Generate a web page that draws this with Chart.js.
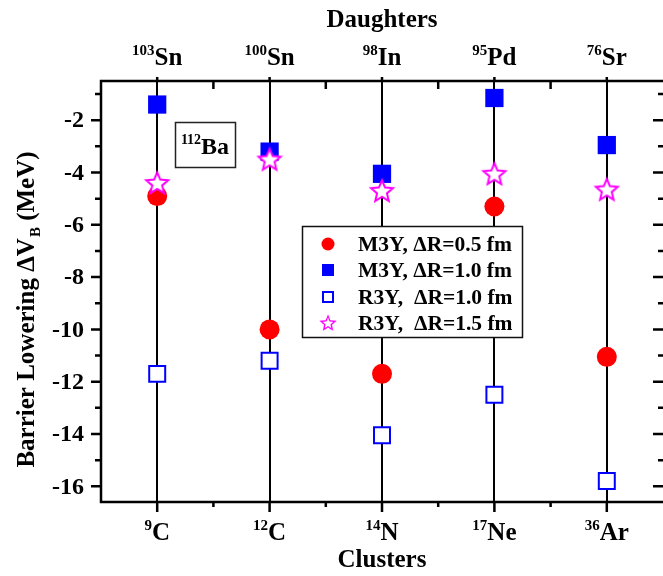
<!DOCTYPE html>
<html><head><meta charset="utf-8">
<script src="https://cdn.jsdelivr.net/npm/chart.js@4"></script>
<style>html,body{margin:0;padding:0;background:#fff}#wrap{width:663px;height:576px}</style>
</head><body><div id="wrap"><canvas id="c" width="663" height="576"></canvas></div>
<script>
const clusterMass = ['9','12','14','17','36'];
const clusterSym = ['C','C','N','Ne','Ar'];
const daughterMass = ['103','100','98','95','76'];
const daughterSym = ['Sn','Sn','In','Pd','Sr'];
const m3y05 = [-4.9, -10.0, -11.7, -5.3, -11.05];
const m3y10 = [-1.4, -3.2, -4.05, -1.15, -2.95];
const r3y10 = [-11.7, -11.2, -14.05, -12.5, -15.8];
const r3y15 = [-4.4, -3.5, -4.7, -4.05, -4.65];
const yTickLabels = [-2, -4, -6, -8, -10, -12, -14, -16];
const seriesLabels = ['M3Y, \u0394R=0.5 fm', 'M3Y, \u0394R=1.0 fm', 'R3Y,  \u0394R=1.0 fm', 'R3Y,  \u0394R=1.5 fm'];
const nucleusMass = '112';
const nucleusSym = 'Ba';

const FONT = '"Liberation Serif", "Times New Roman", serif';

function makeStar() {
  const c = document.createElement('canvas');
  c.width = 28; c.height = 28;
  const g = c.getContext('2d');
  const R = 11.5, r = 5.2, cx = 14, cy = 14.8;
  g.beginPath();
  for (let k = 0; k < 10; k++) {
    const ang = -Math.PI / 2 + k * Math.PI / 5;
    const rr = k % 2 === 0 ? R : r;
    const px = cx + rr * Math.cos(ang), py = cy + rr * Math.sin(ang);
    if (k === 0) g.moveTo(px, py); else g.lineTo(px, py);
  }
  g.closePath();
  g.fillStyle = '#ffffff';
  g.fill();
  g.lineWidth = 2;
  g.strokeStyle = '#ff00ff';
  g.stroke();
  return c;
}
const starImg = makeStar();

function pts(arr) { return arr.map((v, i) => ({x: i, y: v})); }

function drawSupText(ctx, sup, main, cx, baseline, supPx, mainPx, align) {
  ctx.font = 'bold ' + supPx + 'px ' + FONT;
  const ws = ctx.measureText(sup).width;
  ctx.font = 'bold ' + mainPx + 'px ' + FONT;
  const wm = ctx.measureText(main).width;
  const total = ws + wm;
  let x0 = align === 'left' ? cx : cx - total / 2;
  ctx.textAlign = 'left';
  ctx.textBaseline = 'alphabetic';
  ctx.font = 'bold ' + supPx + 'px ' + FONT;
  ctx.fillText(sup, x0, baseline - mainPx * 0.40);
  ctx.font = 'bold ' + mainPx + 'px ' + FONT;
  ctx.fillText(main, x0 + ws, baseline);
}

const decor = {
  id: 'decor',
  afterDraw(chart) {
    const ctx = chart.ctx;
    const xs = chart.scales.x, ys = chart.scales.y;
    const {left, right, top, bottom} = chart.chartArea;
    ctx.save();
    ctx.strokeStyle = '#000';
    ctx.fillStyle = '#000';
    // frame (right edge falls outside the picture)
    ctx.lineWidth = 2.5;
    ctx.beginPath();
    ctx.moveTo(right + 2, top); ctx.lineTo(left, top); ctx.lineTo(left, bottom); ctx.lineTo(right + 2, bottom);
    ctx.stroke();
    // y ticks
    for (let v = -16; v <= -1; v++) {
      const py = ys.getPixelForValue(v);
      const major = v % 2 === 0;
      ctx.beginPath();
      ctx.moveTo(left - (major ? 10 : 6), py); ctx.lineTo(left, py);
      ctx.moveTo(right - (major ? 10 : 5), py); ctx.lineTo(right, py);
      ctx.stroke();
    }
    // x ticks
    for (let k = 0; k <= 8; k++) {
      const v = k / 2;
      const px = xs.getPixelForValue(v);
      const major = k % 2 === 0;
      ctx.beginPath();
      ctx.moveTo(px, bottom); ctx.lineTo(px, bottom + (major ? 10 : 5));
      if (major) { ctx.moveTo(px, top - 4); ctx.lineTo(px, top); }
      else { ctx.moveTo(px, top); ctx.lineTo(px, top + 8); }
      ctx.stroke();
    }
    // y tick labels
    ctx.font = 'bold 24px ' + FONT;
    ctx.textAlign = 'right';
    ctx.textBaseline = 'middle';
    yTickLabels.forEach(v => {
      ctx.fillText(String(v), left - 17, ys.getPixelForValue(v) + 1);
    });
    // x labels bottom & top
    for (let i = 0; i < clusterSym.length; i++) {
      const px = xs.getPixelForValue(i);
      drawSupText(ctx, clusterMass[i], clusterSym[i], px, 540, 15, 25);
      drawSupText(ctx, daughterMass[i], daughterSym[i], px, 65, 15, 25);
    }
    // axis titles
    ctx.font = 'bold 25px ' + FONT;
    ctx.textAlign = 'center';
    ctx.textBaseline = 'alphabetic';
    ctx.fillText('Clusters', xs.getPixelForValue(2), 567);
    ctx.fillText('Daughters', xs.getPixelForValue(2), 27);
    // y title with subscript
    ctx.save();
    ctx.translate(34, 310);
    ctx.rotate(-Math.PI / 2);
    const p1 = 'Barrier Lowering \u0394V', p2 = 'B', p3 = ' (MeV)';
    ctx.font = 'bold 25px ' + FONT;
    const w1 = ctx.measureText(p1).width, w3 = ctx.measureText(p3).width;
    ctx.font = 'bold 15px ' + FONT;
    const w2 = ctx.measureText(p2).width;
    const tot = w1 + w2 + w3;
    const x0 = -tot / 2;
    ctx.textAlign = 'left';
    ctx.font = 'bold 25px ' + FONT;
    ctx.fillText(p1, x0, 0);
    ctx.font = 'bold 15px ' + FONT;
    ctx.fillText(p2, x0 + w1 + 1, 6);
    ctx.font = 'bold 25px ' + FONT;
    ctx.fillText(p3, x0 + w1 + w2 + 1, 0);
    ctx.restore();
    // nucleus box
    ctx.lineWidth = 1.5;
    ctx.strokeStyle = '#222';
    ctx.strokeRect(175.5, 122.5, 60, 45);
    ctx.fillStyle = '#000';
    drawSupText(ctx, nucleusMass, nucleusSym, 205, 154, 14, 24);
    // legend
    ctx.lineWidth = 1.5;
    ctx.strokeStyle = '#111';
    ctx.fillStyle = '#fff';
    ctx.fillRect(302.5, 226.5, 220, 111);
    ctx.strokeRect(302.5, 226.5, 220, 111);
    const rows = [244, 270, 297, 323];
    const mx = 328;
    ctx.fillStyle = '#ff0000';
    ctx.beginPath(); ctx.arc(mx, rows[0], 6.5, 0, Math.PI * 2); ctx.fill();
    ctx.fillStyle = '#0000ff';
    ctx.fillRect(mx - 6, rows[1] - 6, 12, 12);
    ctx.fillStyle = '#fff';
    ctx.strokeStyle = '#0000ff';
    ctx.lineWidth = 2;
    ctx.fillRect(mx - 5, rows[2] - 5, 10, 10);
    ctx.strokeRect(mx - 5, rows[2] - 5, 10, 10);
    ctx.drawImage(starImg, mx - 9, rows[3] - 9, 18, 18);
    ctx.fillStyle = '#000';
    ctx.font = 'bold 21.5px ' + FONT;
    ctx.textAlign = 'left';
    ctx.textBaseline = 'middle';
    seriesLabels.forEach((t, i) => ctx.fillText(t, 358, rows[i] + 1));
    ctx.restore();
  }
};

new Chart(document.getElementById('c'), {
  type: 'scatter',
  data: {
    datasets: [
      {label: seriesLabels[0], data: pts(m3y05), pointStyle: 'circle', pointRadius: 10, pointHoverRadius: 10,
       backgroundColor: '#ff0000', borderColor: '#ff0000', borderWidth: 0, order: 3},
      {label: seriesLabels[1], data: pts(m3y10), pointStyle: 'rect', pointRadius: 12.9, pointHoverRadius: 12.9,
       backgroundColor: '#0000ff', borderColor: '#0000ff', borderWidth: 0, order: 2},
      {label: seriesLabels[2], data: pts(r3y10), pointStyle: 'rect', pointRadius: 11.3, pointHoverRadius: 11.3,
       backgroundColor: '#ffffff', borderColor: '#0000ff', borderWidth: 2, order: 1},
      {label: seriesLabels[3], data: pts(r3y15), pointStyle: starImg, pointRadius: 12, pointHoverRadius: 12,
       backgroundColor: '#ffffff', borderColor: '#ff00ff', borderWidth: 2, order: 0}
    ]
  },
  options: {
    responsive: false,
    animation: false,
    devicePixelRatio: 1,
    layout: {autoPadding: false, padding: {left: 101, right: 0, top: 81, bottom: 74}},
    plugins: {legend: {display: false}, tooltip: {enabled: false}},
    events: [],
    scales: {
      x: {
        type: 'linear', min: -0.5, max: 4.5,
        ticks: {display: false, stepSize: 0.5},
        grid: {drawTicks: false, lineWidth: 2,
               color: c => Number.isInteger(c.tick && c.tick.value) ? '#000' : 'rgba(0,0,0,0)'},
        border: {display: false}
      },
      y: {
        type: 'linear', min: -16.6, max: -0.5,
        ticks: {display: false, stepSize: 1},
        grid: {display: false, drawTicks: false},
        border: {display: false}
      }
    }
  },
  plugins: [decor]
});
</script>
</body></html>
